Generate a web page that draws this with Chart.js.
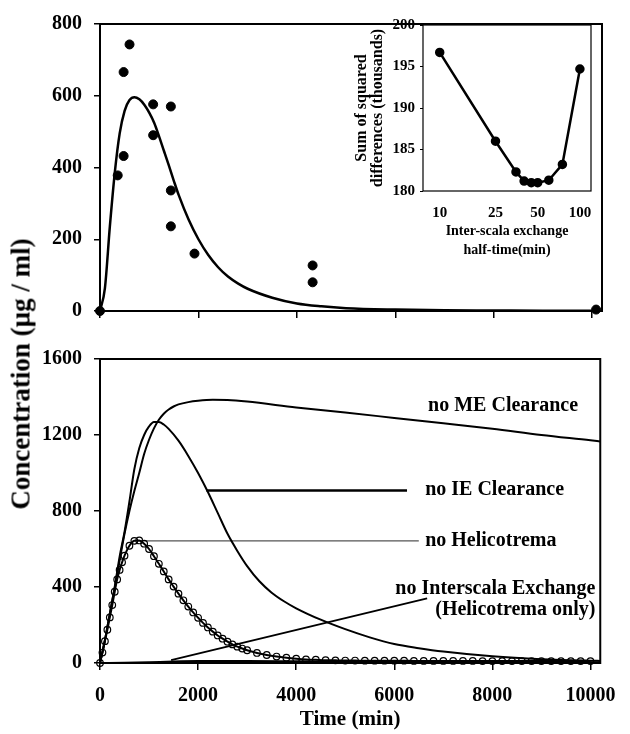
<!DOCTYPE html>
<html>
<head>
<meta charset="utf-8">
<script src="https://cdn.jsdelivr.net/npm/chart.js@4/dist/chart.umd.min.js"></script>
<style>
  body { margin: 0; background: #fff; }
  #wrap { position: relative; width: 630px; height: 734px; }
  canvas { position: absolute; }
  #ytitle {
    position: absolute; left: 21px; top: 374px;
    font: bold 27px "Liberation Serif", "Times New Roman", serif;
    white-space: nowrap;
    transform: translate(-50%, -50%) rotate(-90deg);
  }
</style>
</head>
<body>
<div id="wrap">
  <canvas id="topChart" width="630" height="335" style="left:0;top:0"></canvas>
  <canvas id="insetChart" width="270" height="265" style="left:340px;top:0"></canvas>
  <canvas id="bottomChart" width="630" height="399" style="left:0;top:335px"></canvas>
  <div id="ytitle">Concentration (µg / ml)</div>
</div>
<script>
// 上圖：實測點與擬合曲線
const obsTimes = [0, 360, 480, 480, 600, 1080, 1080, 1440, 1440, 1440, 1920, 4320, 4320, 10080];
const obsConc  = [0, 378, 432, 666, 743, 576, 490, 570, 336, 236, 160, 127, 80, 4];

const fitTimes = [0, 100, 200, 300, 400, 500, 600, 700, 800, 900, 1000, 1100, 1200, 1300, 1400, 1500, 1600, 1800, 2000, 2200, 2400, 2600, 2800, 3000, 3500, 4000, 4500, 5000, 6000, 7000, 8000, 9000, 10000, 10200];
const fitConc  = [0, 64, 235, 385, 495, 558, 588, 596, 590, 575, 553, 525, 487, 446, 405, 363, 323, 255, 200, 156, 122, 96, 77, 62, 37, 21, 13, 8, 4, 2, 1.5, 1, 1, 1];

// 插圖：交換半衰期 vs 誤差平方和
const halfTimes = [10, 25, 35, 40, 45, 50, 60, 75, 100];
const sumSq     = [196.7, 186.0, 182.3, 181.2, 181.0, 181.0, 181.3, 183.2, 194.7];
const insetXTicks = [10, 25, 50, 100];

// 下圖：各種模擬情境
const meTimes = [0, 100, 200, 300, 400, 500, 600, 700, 800, 900, 1000, 1100, 1200, 1300, 1400, 1500, 1600, 1800, 2000, 2300, 2600, 3000, 4000, 5000, 6000, 7000, 8000, 9000, 10000, 10200];
const meConc  = [0, 120, 260, 395, 540, 680, 800, 905, 1000, 1100, 1175, 1235, 1280, 1312, 1334, 1350, 1361, 1373, 1380, 1385, 1384, 1376, 1345, 1318, 1290, 1262, 1233, 1200, 1172, 1166];

const ieTimes = [0, 100, 200, 300, 400, 500, 600, 700, 800, 900, 1000, 1100, 1200, 1300, 1400, 1600, 1800, 2000, 2200, 2400, 2600, 2800, 3000, 3250, 3500, 3750, 4000, 4500, 5000, 5500, 6000, 6500, 7000, 8000, 9000, 10000, 10200];
const ieConc  = [0, 120, 260, 400, 560, 690, 850, 1020, 1130, 1200, 1245, 1268, 1268, 1255, 1232, 1170, 1090, 1000, 900, 790, 680, 590, 510, 430, 370, 325, 288, 228, 178, 135, 100, 78, 60, 35, 20, 12, 11];

const heliTimes = [0, 50, 100, 150, 200, 250, 300, 350, 400, 450, 500, 600, 700, 800, 900, 1000, 1100, 1200, 1300, 1400, 1500, 1600, 1700, 1800, 1900, 2000, 2100, 2200, 2300, 2400, 2500, 2600, 2700, 2800, 2900, 3000, 3200, 3400, 3600, 3800, 4000, 4200, 4400, 4600, 4800, 5000, 5200, 5400, 5600, 5800, 6000, 6200, 6400, 6600, 6800, 7000, 7200, 7400, 7600, 7800, 8000, 8200, 8400, 8600, 8800, 9000, 9200, 9400, 9600, 9800, 10000];
const heliConc  = [0, 55, 115, 175, 240, 305, 375, 440, 490, 530, 565, 617, 643, 645, 628, 600, 562, 522, 482, 440, 402, 365, 330, 297, 266, 238, 211, 187, 165, 145, 128, 112, 98, 86, 76, 67, 53, 42, 34, 28, 23, 19, 17, 15, 14, 13, 13, 12, 12, 12, 12, 12, 11, 11, 11, 11, 11, 11, 11, 10, 10, 10, 10, 10, 10, 10, 10, 10, 10, 10, 10];

const interTimes = [0, 500, 1000, 1500, 2000, 3000, 4000, 5000, 6000, 8000, 10000, 10200];
const interConc  = [0, 1, 4, 8, 10, 10, 9, 8, 7, 5, 4, 4];

// 指示線
const ieLeaderT = [2170, 6260];
const ieLeaderC = [908, 908];
const heliLeaderT = [760, 6500];
const heliLeaderC = [643, 643];
const interLeaderT = [1450, 6670];
const interLeaderC = [15, 340];

const xTicks = [0, 2000, 4000, 6000, 8000, 10000];

// 曲線標籤 (資料座標)
const curveLabels = [
  { text: 'no ME Clearance', t: 6690, c: 1354, align: 'left' },
  { text: 'no IE Clearance', t: 6630, c: 913, align: 'left' },
  { text: 'no Helicotrema', t: 6630, c: 642, align: 'left' },
  { text: 'no Interscala Exchange', t: 10100, c: 393, align: 'right' },
  { text: '(Helicotrema only)', t: 10100, c: 278, align: 'right' }
];

function pts(xs, ys) {
  return xs.map((x, i) => ({ x: x, y: ys[i] }));
}

Chart.defaults.font.family = '"Liberation Serif", "Times New Roman", serif';
Chart.defaults.font.weight = 'bold';
Chart.defaults.color = '#000';
Chart.defaults.animation = false;

const framePlugin = {
  id: 'frame',
  afterDatasetsDraw(chart, args, opts) {
    const a = chart.chartArea;
    const ctx = chart.ctx;
    ctx.save();
    ctx.lineWidth = opts.width || 2;
    ctx.strokeStyle = '#000';
    ctx.strokeRect(a.left, a.top, a.right - a.left, a.bottom - a.top);
    ctx.restore();
  }
};

const labelPlugin = {
  id: 'curveLabels',
  afterDraw(chart) {
    const ctx = chart.ctx;
    const xs = chart.scales.x, ys = chart.scales.y;
    ctx.save();
    ctx.font = 'bold 20px "Liberation Serif", "Times New Roman", serif';
    ctx.fillStyle = '#000';
    ctx.textBaseline = 'middle';
    curveLabels.forEach(l => {
      ctx.textAlign = l.align;
      ctx.fillText(l.text, xs.getPixelForValue(l.t), ys.getPixelForValue(l.c));
    });
    ctx.restore();
  }
};

function mainScales(yMax, yStep, xHeight, showXLabels) {
  return {
    x: {
      type: 'linear', min: 0, max: 10200,
      afterBuildTicks: s => { s.ticks = xTicks.map(v => ({ value: v })); },
      afterFit: s => { s.height = xHeight; },
      ticks: { display: showXLabels, padding: 14, font: { size: 20 }, callback: v => String(v), maxRotation: 0 },
      grid: { drawOnChartArea: false, drawTicks: true, tickLength: 7, color: '#000', lineWidth: 1.5 },
      border: { display: false },
      title: { display: showXLabels, text: 'Time (min)', font: { size: 21 }, padding: { top: 0, bottom: 2 } }
    },
    y: {
      min: 0, max: yMax,
      afterFit: s => { s.width = 100; },
      ticks: { stepSize: yStep, padding: 12, font: { size: 20 }, callback: v => String(v) },
      grid: { drawOnChartArea: false, drawTicks: true, tickLength: 6, color: '#000', lineWidth: 1.5 },
      border: { display: false }
    }
  };
}

// 上圖
new Chart(document.getElementById('topChart'), {
  type: 'scatter',
  data: {
    datasets: [
      {
        data: pts(fitTimes, fitConc), showLine: true, borderColor: '#000', borderWidth: 2.5,
        pointRadius: 0, cubicInterpolationMode: 'monotone'
      },
      {
        data: pts(obsTimes, obsConc), showLine: false, pointRadius: 4.5,
        backgroundColor: '#000', borderColor: '#000', clip: false
      }
    ]
  },
  options: {
    responsive: false,
    events: [],
    layout: { padding: { left: 0, right: 28, top: 15, bottom: 0 } },
    plugins: { legend: { display: false }, tooltip: { enabled: false }, frame: { width: 2 } },
    scales: mainScales(800, 200, 14, false)
  },
  plugins: [framePlugin]
});

// 插圖
new Chart(document.getElementById('insetChart'), {
  type: 'scatter',
  data: {
    datasets: [{
      data: pts(halfTimes, sumSq), showLine: true, borderColor: '#000', borderWidth: 2.5,
      pointRadius: 3.5, backgroundColor: '#000', tension: 0, clip: false
    }]
  },
  options: {
    responsive: false,
    events: [],
    layout: { padding: { left: 0, right: 19, top: 25, bottom: 3 } },
    plugins: { legend: { display: false }, tooltip: { enabled: false }, frame: { width: 1.2 } },
    scales: {
      x: {
        type: 'logarithmic', min: 7.6, max: 120,
        afterBuildTicks: s => { s.ticks = insetXTicks.map(v => ({ value: v })); },
        afterFit: s => { s.height = 71; },
        ticks: { padding: 13, font: { size: 15 }, callback: v => String(v), maxRotation: 0, autoSkip: false },
        grid: { drawOnChartArea: false, drawTicks: false },
        border: { display: false },
        title: {
          display: true, text: ['Inter-scala exchange', 'half-time(min)'],
          font: { size: 14, lineHeight: 1.35 }, padding: { top: 0, bottom: 2 }
        }
      },
      y: {
        min: 180, max: 200,
        afterFit: s => { s.width = 83; },
        ticks: { stepSize: 5, padding: 5, font: { size: 15 } },
        grid: { drawOnChartArea: false, drawTicks: true, tickLength: 3, color: '#000', lineWidth: 1 },
        border: { display: false },
        title: {
          display: true, text: ['Sum of squared', 'differences (thousands)'],
          font: { size: 16, lineHeight: 1.0 }, padding: { top: 14, bottom: 0 }
        }
      }
    }
  },
  plugins: [framePlugin]
});

// 下圖
new Chart(document.getElementById('bottomChart'), {
  type: 'scatter',
  data: {
    datasets: [
      { data: pts(meTimes, meConc), showLine: true, borderColor: '#000', borderWidth: 2, pointRadius: 0, cubicInterpolationMode: 'monotone' },
      { data: pts(ieTimes, ieConc), showLine: true, borderColor: '#000', borderWidth: 2, pointRadius: 0, cubicInterpolationMode: 'monotone' },
      { data: pts(interTimes, interConc), showLine: true, borderColor: '#000', borderWidth: 2, pointRadius: 0, cubicInterpolationMode: 'monotone' },
      {
        data: pts(heliTimes, heliConc), showLine: true, borderColor: '#000', borderWidth: 2,
        pointRadius: 3.3, pointBorderWidth: 1.2, pointBackgroundColor: 'rgba(255,255,255,0)',
        pointBorderColor: '#000', cubicInterpolationMode: 'monotone', clip: false
      },
      { data: pts(ieLeaderT, ieLeaderC), showLine: true, borderColor: '#000', borderWidth: 2.5, pointRadius: 0 },
      { data: pts(heliLeaderT, heliLeaderC), showLine: true, borderColor: '#555', borderWidth: 1.2, pointRadius: 0 },
      { data: pts(interLeaderT, interLeaderC), showLine: true, borderColor: '#000', borderWidth: 2, pointRadius: 0 }
    ]
  },
  options: {
    responsive: false,
    events: [],
    layout: { padding: { left: 0, right: 28, top: 23, bottom: 0 } },
    plugins: { legend: { display: false }, tooltip: { enabled: false }, frame: { width: 2 } },
    scales: mainScales(1600, 400, 71, true)
  },
  plugins: [framePlugin, labelPlugin]
});
</script>
</body>
</html>
